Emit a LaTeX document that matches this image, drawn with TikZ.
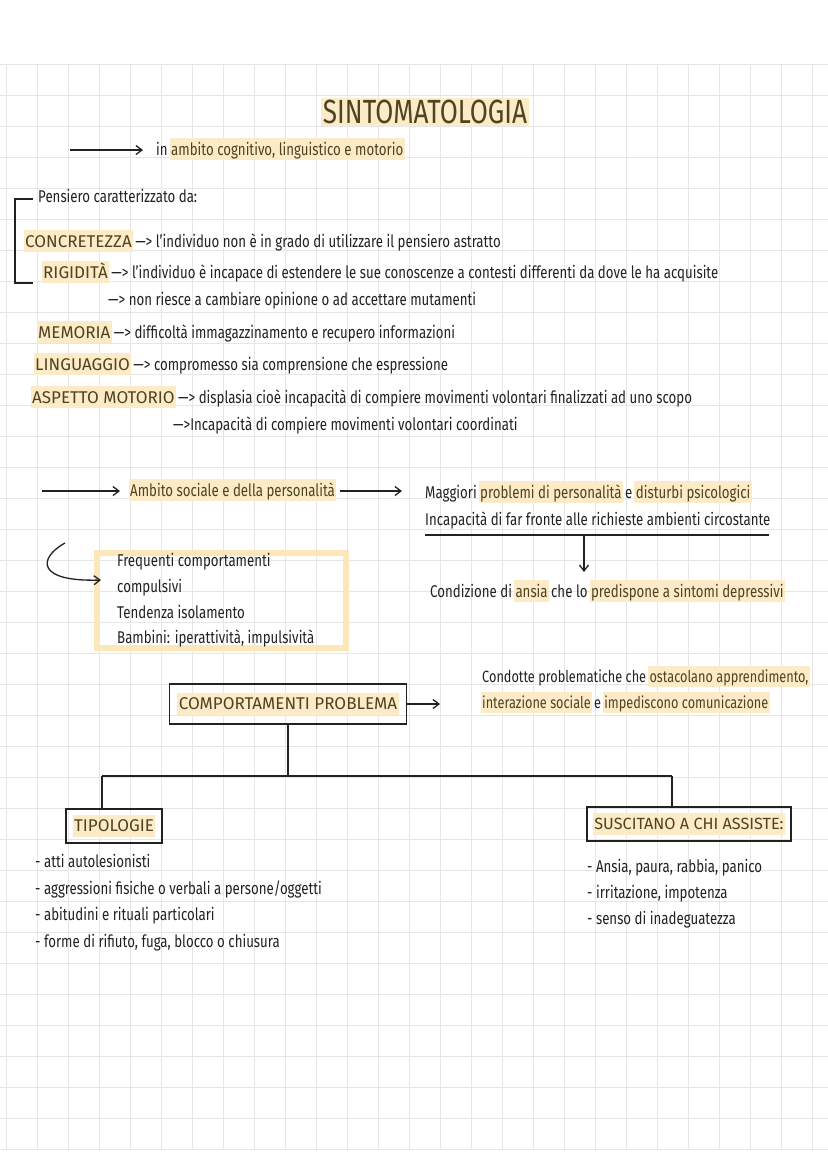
\documentclass[tikz,border=0pt]{standalone}
\usepackage{fontspec}
\setmainfont{Fira Sans}[FakeStretch=0.78]
\newfontfamily\capsfont{Fira Sans}[FakeStretch=1.0]
\usetikzlibrary{arrows.meta}
\definecolor{gridc}{HTML}{E6E6E6}
\definecolor{hl}{HTML}{FCEBC6}
\definecolor{hlbox}{HTML}{FBE7BA}
\definecolor{ink}{HTML}{222222}
\definecolor{hlink}{HTML}{4E4322}
\newcommand\hlt[1]{{\setlength{\fboxsep}{1.5pt}\kern-1.5pt\colorbox{hl}{\textcolor{hlink}{\vphantom{Ág}#1}}\kern-1.5pt}}
\newcommand\hlc[1]{\hlt{\capsfont #1}}
\newcommand\arr{\textemdash{}>}
\tikzset{
  txt/.style={anchor=base west, inner sep=0pt, text=ink, font=\fontsize{17}{20}\selectfont},
  boxed/.style={draw=ink, line width=1.3pt, inner sep=3pt, text=ink, font=\fontsize{17}{20}\selectfont},
  conn/.style={draw=ink, line width=1.3pt},
  arrowc/.style={conn, -{Straight Barb[length=6pt,width=9pt]}}
}
\begin{document}
\begin{tikzpicture}[x=1pt,y=-1pt]
\useasboundingbox[fill=white] (0,0) rectangle (828,1171);
% grid
\foreach \i in {0,...,26} \draw[gridc, line width=1pt] (6+31*\i,64) -- (6+31*\i,1149);
\foreach \j in {0,...,35} \draw[gridc, line width=1pt] (0,64+31*\j) -- (828,64+31*\j);

% title
\node[inner sep=2pt, fill=hl, text=hlink, font=\fontsize{33.5}{38}\selectfont] (title) at (425,112) {SINTOMATOLOGIA};

\coordinate (a1s) at (70,150); \coordinate (a1e) at (143,150);
\draw[arrowc] (a1s) -- (a1e);
\node[txt] (cog) at (156,155) {in \hlt{ambito cognitivo, linguistico e motorio}};

% bracket
\draw[conn] (33,199) -- (15,199) -- (15,283) -- (33,283);
\node[txt] (pens) at (38,202) {Pensiero caratterizzato da:};
\node[txt] (concr) at (25,247) {\hlc{CONCRETEZZA} \arr{} l'individuo non è in grado di utilizzare il pensiero astratto};
\node[txt] (rigid) at (43,278) {\hlc{RIGIDITÀ} \arr{} l'individuo è incapace di estendere le sue conoscenze a contesti differenti da dove le ha acquisite};
\node[txt] (rigid2) at (108,305) {\arr{} non riesce a cambiare opinione o ad accettare mutamenti};
\node[txt] (mem) at (38,338) {\hlc{MEMORIA} \arr{} difficoltà immagazzinamento e recupero informazioni};
\node[txt] (ling) at (35,370) {\hlc{LINGUAGGIO} \arr{} compromesso sia comprensione che espressione};
\node[txt] (mot) at (32,403) {\hlc{ASPETTO MOTORIO} \arr{} displasia cioè incapacità di compiere movimenti volontari finalizzati ad uno scopo};
\node[txt] (mot2) at (173,430) {\arr{}Incapacità di compiere movimenti volontari coordinati};

% social
\coordinate (a2s) at (42,491); \coordinate (a2e) at (120,491);
\draw[arrowc] (a2s) -- (a2e);
\node[txt] (amb) at (130,496) {\hlt{Ambito sociale e della personalità}};
\coordinate (a3s) at (340,491); \coordinate (a3e) at (402,491);
\draw[arrowc] (a3s) -- (a3e);
\node[txt] (magg) at (425,498) {Maggiori \hlt{problemi di personalità} e \hlt{disturbi psicologici}};
\node[txt] (incap) at (425,525) {Incapacità di far fronte alle richieste ambienti circostante};
\coordinate (ul) at (425,535); \coordinate (ur) at (769,535); \coordinate (um) at (584,535); \coordinate (ud) at (584,572);
\draw[conn] (ul) -- (ur);
\draw[arrowc] (um) -- (ud);
\node[txt] (cond) at (430,597) {Condizione di \hlt{ansia} che lo \hlt{predispone a sintomi depressivi}};

% yellow box and curved arrow
\draw[hlbox, line width=6pt] (97,553) rectangle (346,648);
\coordinate (cs) at (65,543); \coordinate (ce) at (101,580);
\draw[arrowc] (cs) .. controls (38,558) and (36,582) .. (ce);
\node[txt] (f1) at (117,566) {Frequenti comportamenti};
\node[txt] (f2) at (117,592) {compulsivi};
\node[txt] (f3) at (117,618) {Tendenza isolamento};
\node[txt] (f4) at (117,643) {Bambini: iperattività, impulsività};

% comportamenti problema
\node[boxed, minimum width=237pt, minimum height=40pt] (cp) at (288,704) {\hlc{COMPORTAMENTI PROBLEMA}};
\coordinate (a4e) at (440,704);
\draw[arrowc] (cp.east) -- (a4e);
\node[txt, font=\fontsize{16.3}{19}\selectfont] (cd1) at (482,682) {Condotte problematiche che \hlt{ostacolano apprendimento,}};
\node[txt, font=\fontsize{16.3}{19}\selectfont] (cd2) at (482,708) {\hlt{interazione sociale} e \hlt{impediscono comunicazione}};

\node[boxed, minimum width=96pt, minimum height=34pt] (tip) at (114,826) {\hlc{TIPOLOGIE}};
\node[boxed, minimum width=204pt, minimum height=34pt, font=\fontsize{16.2}{19}\selectfont] (sus) at (689,824) {\hlc{SUSCITANO A CHI ASSISTE:}};
\coordinate (j0) at (288,776); \coordinate (jl) at (102,776); \coordinate (jr) at (672,776);
\draw[conn] (cp.south) -- (j0);
\draw[conn] (jl) -- (jr);
\draw[conn] (jl) -- (jl |- tip.north);
\draw[conn] (jr) -- (jr |- sus.north);

\node[txt] (t1) at (35,867) {- atti autolesionisti};
\node[txt] (t2) at (35,894) {- aggressioni fisiche o verbali a persone/oggetti};
\node[txt] (t3) at (35,920) {- abitudini e rituali particolari};
\node[txt] (t4) at (35,947) {- forme di rifiuto, fuga, blocco o chiusura};

\node[txt] (s1) at (587,872) {- Ansia, paura, rabbia, panico};
\node[txt] (s2) at (587,898) {- irritazione, impotenza};
\node[txt] (s3) at (587,924) {- senso di inadeguatezza};
\end{tikzpicture}
\end{document}
